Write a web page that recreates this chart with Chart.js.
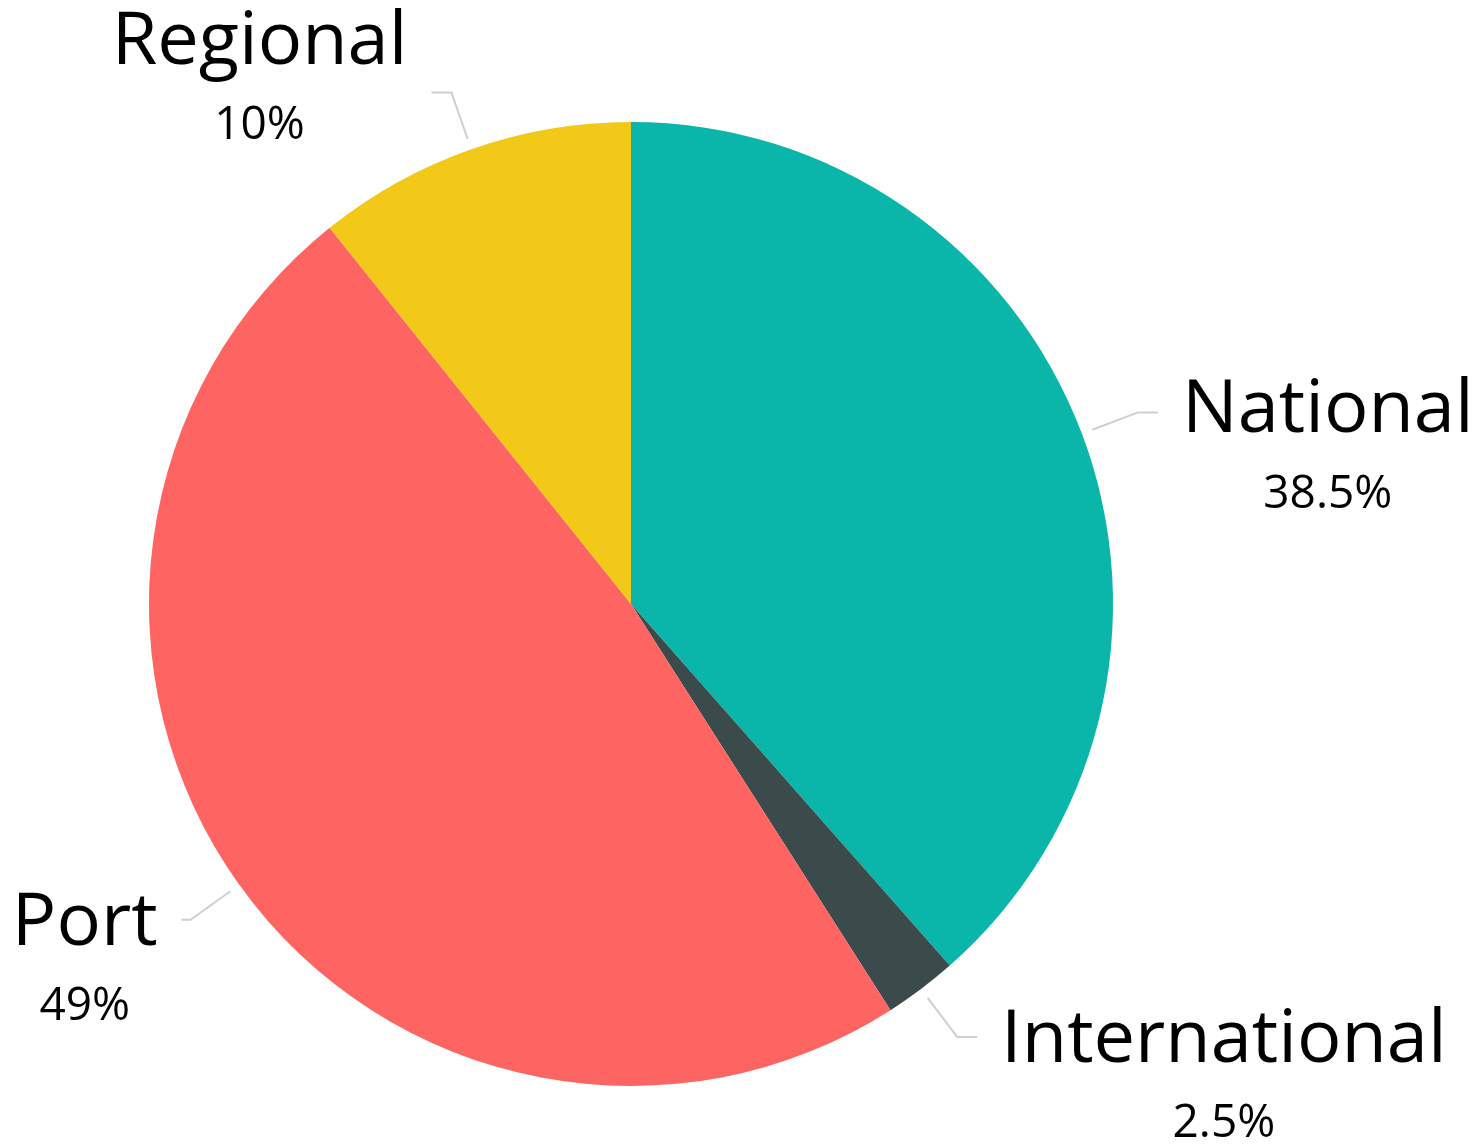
<!DOCTYPE html>
<html>
<head>
<meta charset="utf-8">
<script src="https://cdn.jsdelivr.net/npm/chart.js@4.4.1/dist/chart.umd.min.js"></script>
<style>
  html, body { margin: 0; padding: 0; background: #fff; }
  #wrap { width: 1483px; height: 1145px; }
</style>
</head>
<body>
<div id="wrap"><canvas id="pie"></canvas></div>
<script>
const categories = ['National', 'International', 'Port', 'Regional'];
// slice sizes as drawn in the picture (the printed labels are rounded)
const shares = [38.5, 2.45, 48.3, 10.75];
const shareLabels = ['38.5%', '2.5%', '49%', '10%'];
const sliceColors = ['#09B6A9', '#3B4A4B', '#FE6461', '#F2C819'];

// leader lines + two-line labels outside each slice
const outsideLabels = {
  id: 'outsideLabels',
  afterDraw: function (chart) {
    var ctx = chart.ctx;
    var arcs = chart.getDatasetMeta(0).data;
    ctx.save();
    arcs.forEach(function (arc, i) {
      var mid = (arc.startAngle + arc.endAngle) / 2;
      var cx = arc.x, cy = arc.y, r = arc.outerRadius;
      var cos = Math.cos(mid), sin = Math.sin(mid);
      var x0 = cx + cos * (r + 11), y0 = cy + sin * (r + 11);
      var x1 = cx + cos * (r + 60), y1 = cy + sin * (r + 60);
      var dir = cos >= 0 ? 1 : -1;
      var x2 = x1 + dir * (Math.abs(sin) < 0.75 && dir < 0 ? 9 : 20);

      ctx.strokeStyle = '#CFCFCF';
      ctx.lineWidth = 2;
      ctx.beginPath();
      ctx.moveTo(x0, y0);
      ctx.lineTo(x1, y1);
      ctx.lineTo(x2, y1);
      ctx.stroke();

      ctx.font = '74px "Open Sans"';
      var w = ctx.measureText(categories[i]).width;
      var tx = x2 + dir * (24 + w / 2);
      // labels near the top sit above the elbow
      var ty;
      if (Math.abs(sin) > 0.9 && sin < 0) ty = y1 - 50;
      else if (sin > 0) ty = y1 + 4;
      else ty = y1 - 1;

      ctx.fillStyle = '#000';
      ctx.textAlign = 'center';
      ctx.textBaseline = 'middle';
      ctx.fillText(categories[i], tx, ty);
      ctx.font = '46px "Open Sans"';
      ctx.fillText(shareLabels[i], tx, ty + 83);
    });
    ctx.restore();
  }
};

new Chart(document.getElementById('pie').getContext('2d'), {
  type: 'pie',
  data: {
    labels: categories,
    datasets: [{
      data: shares,
      backgroundColor: sliceColors,
      borderWidth: 0
    }]
  },
  options: {
    responsive: true,
    maintainAspectRatio: false,
    animation: false,
    layout: { padding: { left: 149, right: 370, top: 121, bottom: 58 } },
    plugins: {
      legend: { display: false },
      tooltip: { enabled: false }
    }
  },
  plugins: [outsideLabels]
});
</script>
</body>
</html>
